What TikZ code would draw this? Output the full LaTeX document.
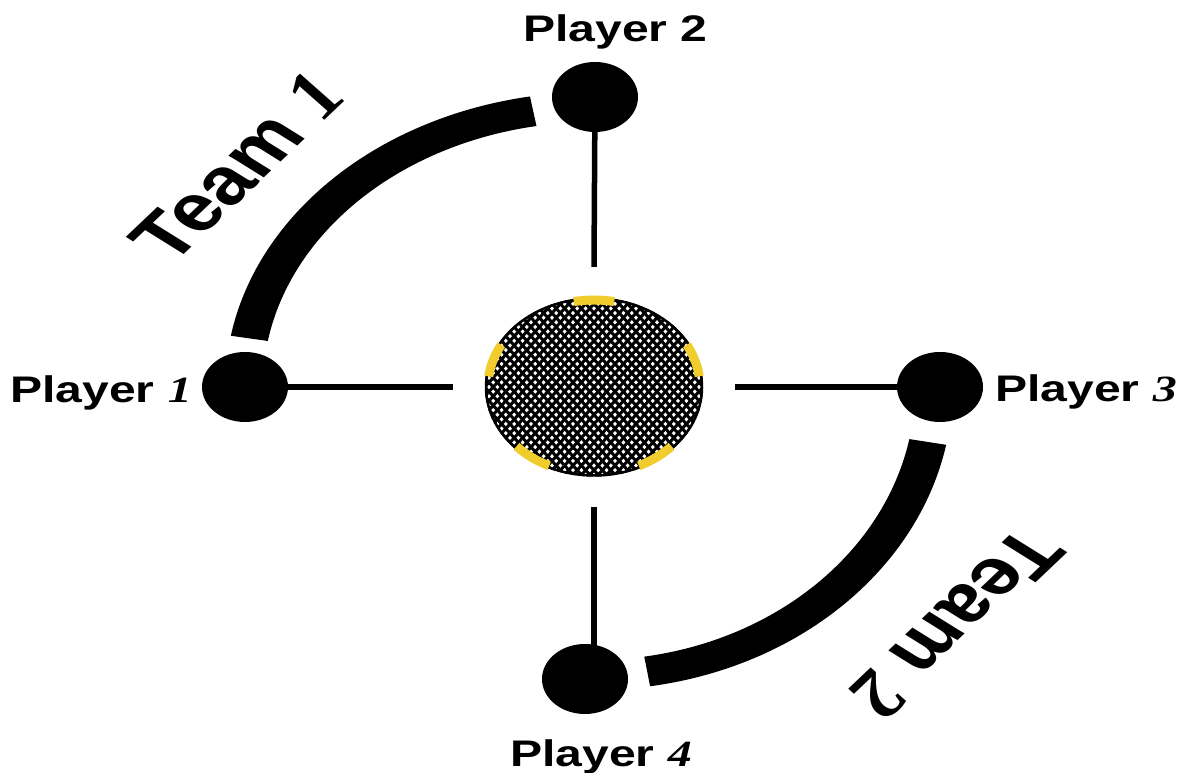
\documentclass[tikz,border=0pt]{standalone}
\usepackage{fontspec}
\setmainfont{Liberation Sans}
\newfontfamily\digfont{Liberation Serif}
\usetikzlibrary{shapes.geometric}
\definecolor{ballyellow}{RGB}{240,205,45}
\newcommand{\dg}[1]{{\digfont\bfseries\itshape #1}}
\begin{document}
\begin{tikzpicture}[x=1pt,y=1pt,
  player/.style={ellipse, fill=black, minimum width=86, minimum height=70, inner sep=0},
  lbl/.style={inner sep=0, anchor=base west, font=\fontsize{37}{40}\selectfont\bfseries},
  team/.style={inner sep=0, font=\fontsize{66}{70}\selectfont\bfseries},
  link/.style={line width=5.5},
  mesh/.style={line width=3},
  band/.style={fill=black}]
\useasboundingbox (0,0) rectangle (1187,773);
% ball and invisible gap zone
\node[ellipse, minimum width=218, minimum height=179, inner sep=0, fill=white] (ball) at (594,386) {};
\node[ellipse, minimum width=282, minimum height=240, inner sep=0] (zone) at (594,386) {};
% players
\node[player] (p1) at (245,386) {};
\node[player] (p2) at (595,676) {};
\node[player] (p3) at (940,386) {};
\node[player] (p4) at (585,94) {};
% links
\draw[link] (p1.center) -- (zone.west);
\draw[link] (p2.center) -- (zone.north);
\draw[link] (p3.center) -- (zone.east);
\draw[link] (zone.south) -- (zone.south |- p4.center);
% team bands
\fill[band] ([shift={(100:368.75 and 295)}]ball.center) arc[start angle=100, end angle=170, x radius=368.75, y radius=295]
  -- ([shift={(170:331.25 and 265)}]ball.center) arc[start angle=170, end angle=100, x radius=331.25, y radius=265] -- cycle;
\fill[band] ([shift={(-11:358.75 and 303)}]ball.center) arc[start angle=-11, end angle=-81, x radius=358.75, y radius=303]
  -- ([shift={(-81:321.25 and 273)}]ball.center) arc[start angle=-81, end angle=-11, x radius=321.25, y radius=273] -- cycle;
% ball mesh
\begin{scope}
  \clip (ball.center) ellipse [x radius=109, y radius=89.5];
  \foreach \k in {-24,...,24} {
    \draw[mesh, shift={(ball.center)}] (\k*8.4-100,-110) -- ++(200,220);
    \draw[mesh, shift={(ball.center)}] (\k*8.4-100,110) -- ++(200,-220);
  }
\end{scope}
\draw[line width=2.5] (ball.center) ellipse [x radius=108, y radius=88.5];
\foreach \a [evaluate=\a as \s using \a-11, evaluate=\a as \e using \a+11] in {18,90,162,234,306}
  \draw[ballyellow, line width=9] ([shift={(\s:106 and 87)}]ball.center) arc[start angle=\s, end angle=\e, x radius=106, y radius=87];
% labels
\node[lbl] (l1) at (10,370) {\scalebox{1.3}[1]{Player \dg{1}}};
\node[lbl] (l2) at (523,731) {\scalebox{1.3}[1]{Player 2}};
\node[lbl] (l3) at (995,371) {\scalebox{1.3}[1]{Player \dg{3}}};
\node[lbl] (l4) at (510,6) {\scalebox{1.3}[1]{Player \dg{4}}};
\node[team] (t1) at (238,606) {\scalebox{1.3}[1]{\rotatebox{51}{Team \dg{1}}}};
\node[team] (t2) at (956,150) {\scalebox{1.3}[1]{\rotatebox{231}{Team \dg{2}}}};
\end{tikzpicture}
\end{document}
